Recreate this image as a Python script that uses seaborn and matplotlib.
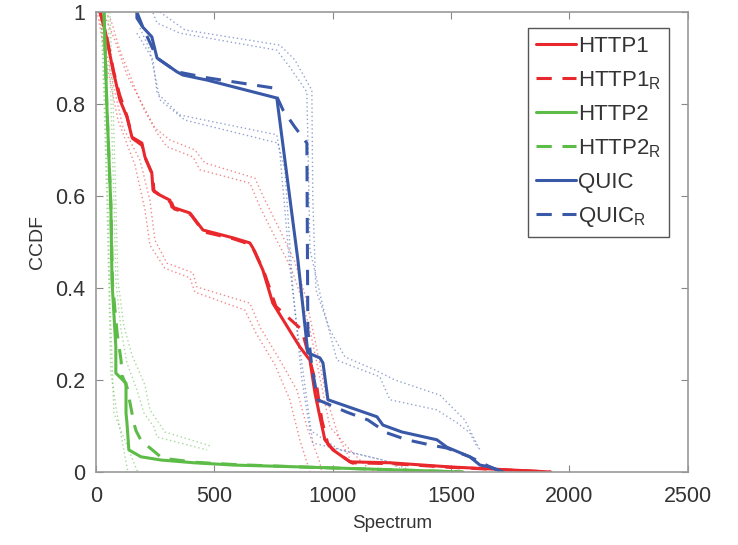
import matplotlib
matplotlib.use("Agg")
import numpy as np
import pandas as pd
import matplotlib.pyplot as plt
import seaborn as sns

# ---- values (spectrum, ccdf) ----
http1_x = [17, 38, 72, 101, 131, 152, 194, 207, 236, 241, 270, 312, 321, 397, 452, 579, 650, 663,
           705, 747, 861, 904, 925, 946, 967, 1001, 1073, 1242, 1495, 1921]
http1_y = [1.0, 0.961, 0.874, 0.809, 0.772, 0.728, 0.715, 0.685, 0.65, 0.613, 0.602, 0.591, 0.576,
           0.563, 0.526, 0.509, 0.498, 0.487, 0.439, 0.367, 0.272, 0.243, 0.172, 0.12, 0.07, 0.048,
           0.022, 0.02, 0.011, 0.0]
http1r_x = [17, 40, 75, 100, 130, 155, 195, 210, 240, 245, 275, 320, 330, 400, 455, 580, 650, 670,
            710, 760, 870, 933, 954, 980, 1010, 1080, 1250, 1500, 1920]
http1r_y = [1.0, 0.96, 0.87, 0.82, 0.775, 0.725, 0.71, 0.68, 0.645, 0.61, 0.6, 0.585, 0.572, 0.56,
            0.522, 0.507, 0.495, 0.48, 0.435, 0.36, 0.309, 0.185, 0.113, 0.06, 0.045, 0.02, 0.018,
            0.01, 0.0]
http2_x = [34, 46, 63, 68, 84, 84, 127, 127, 131, 139, 190, 274, 414, 583, 861, 1550]
http2_y = [1.0, 0.798, 0.58, 0.413, 0.272, 0.215, 0.193, 0.128, 0.107, 0.048, 0.033, 0.026, 0.02,
           0.015, 0.011, 0.0]
http2r_x = [34, 46, 63, 70, 90, 106, 110, 131, 160, 169, 194, 224, 280, 420, 590, 860, 1550]
http2r_y = [1.0, 0.8, 0.58, 0.41, 0.3, 0.243, 0.21, 0.185, 0.107, 0.09, 0.065, 0.054, 0.03, 0.021,
            0.016, 0.011, 0.0]
quic_x = [173, 173, 198, 236, 258, 342, 367, 469, 764, 853, 895, 946, 959, 980, 1187, 1212, 1292,
          1440, 1482, 1579, 1622, 1664, 1719]
quic_y = [1.0, 0.987, 0.967, 0.946, 0.9, 0.87, 0.863, 0.852, 0.813, 0.461, 0.259, 0.248, 0.237,
          0.157, 0.12, 0.102, 0.087, 0.07, 0.054, 0.033, 0.015, 0.011, 0.0]
quicr_x = [173, 198, 258, 342, 469, 747, 790, 840, 891, 895, 912, 937, 1060, 1149, 1229, 1313, 1410,
           1482, 1579, 1664, 1719]
quicr_y = [1.0, 0.967, 0.9, 0.87, 0.857, 0.835, 0.787, 0.75, 0.715, 0.309, 0.228, 0.157, 0.13,
           0.113, 0.085, 0.07, 0.059, 0.052, 0.033, 0.011, 0.0]

# confidence bounds (dotted)
http1_hi1_x = [38, 63, 101, 156, 198, 258, 300, 410, 439, 650, 693, 747, 807, 832, 861, 904, 959,
               988, 1073, 1136, 1178]
http1_hi1_y = [1.0, 0.983, 0.917, 0.846, 0.793, 0.737, 0.707, 0.685, 0.657, 0.628, 0.576, 0.52,
               0.461, 0.433, 0.389, 0.309, 0.172, 0.098, 0.048, 0.015, 0.0]
http1_hi2_x = [30, 80, 131, 186, 249, 312, 418, 460, 671, 714, 777, 840, 883, 925, 976, 1030, 1094]
http1_hi2_y = [1.0, 0.939, 0.863, 0.809, 0.748, 0.722, 0.7, 0.672, 0.639, 0.591, 0.526, 0.457,
               0.385, 0.287, 0.157, 0.07, 0.009]
http1_lo1_x = [17, 59, 114, 186, 228, 249, 300, 410, 427, 650, 693, 777, 849, 891, 946, 954]
http1_lo1_y = [0.983, 0.874, 0.75, 0.678, 0.591, 0.504, 0.454, 0.433, 0.402, 0.367, 0.315, 0.243,
               0.178, 0.098, 0.02, 0.0]
http1_lo2_x = [8, 42, 93, 165, 207, 228, 291, 397, 418, 629, 676, 756, 819, 861, 904]
http1_lo2_y = [0.993, 0.896, 0.765, 0.667, 0.57, 0.493, 0.443, 0.422, 0.391, 0.352, 0.302, 0.233,
               0.157, 0.07, 0.0]
http2_hi1_x = [51, 63, 76, 84, 106, 131, 173, 203, 245, 258, 469]
http2_hi1_y = [1.0, 0.809, 0.591, 0.417, 0.309, 0.237, 0.178, 0.128, 0.098, 0.076, 0.048]
http2_hi2_x = [59, 72, 84, 93, 118, 152, 207, 228, 291, 481]
http2_hi2_y = [1.0, 0.809, 0.591, 0.417, 0.317, 0.254, 0.189, 0.135, 0.087, 0.057]
http2_lo1_x = [21, 34, 46, 55, 63, 89, 131, 135]
http2_lo1_y = [1.0, 0.809, 0.591, 0.396, 0.215, 0.128, 0.011, 0.0]
http2_lo2_x = [25, 38, 51, 59, 76, 173, 182]
http2_lo2_y = [1.0, 0.809, 0.591, 0.374, 0.128, 0.004, 0.0]
quic_hi1_x = [241, 258, 355, 764, 819, 891, 895, 904, 959, 1018, 1199, 1242, 1440, 1525, 1579, 1613]
quic_hi1_y = [0.998, 0.976, 0.954, 0.917, 0.88, 0.826, 0.722, 0.483, 0.359, 0.243, 0.207, 0.157,
              0.135, 0.107, 0.085, 0.052]
quic_hi2_x = [270, 376, 777, 840, 912, 916, 929, 988, 1052, 1178, 1263, 1453, 1558, 1600, 1622]
quic_hi2_y = [1.0, 0.961, 0.928, 0.896, 0.83, 0.591, 0.396, 0.309, 0.25, 0.222, 0.2, 0.167, 0.113,
              0.07, 0.048]
quic_lo1_x = [173, 241, 258, 355, 764, 777, 819, 849, 891, 916, 988, 1212, 1284]
quic_lo1_y = [0.954, 0.896, 0.824, 0.776, 0.733, 0.693, 0.446, 0.315, 0.157, 0.063, 0.054, 0.026,
              0.009]
quic_lo2_x = [186, 228, 270, 376, 769, 798, 832, 870, 904, 1030, 1242, 1326]
quic_lo2_y = [0.965, 0.917, 0.809, 0.765, 0.715, 0.657, 0.396, 0.2, 0.091, 0.048, 0.022, 0.004]

red, green, blue = "#E8282C", "#5DBB47", "#3A58A8"

main = [
    ("HTTP1", http1_x, http1_y, red, "-"),
    ("HTTP1$_\\mathregular{R}$", http1r_x, http1r_y, red, "--"),
    ("HTTP2", http2_x, http2_y, green, "-"),
    ("HTTP2$_\\mathregular{R}$", http2r_x, http2r_y, green, "--"),
    ("QUIC", quic_x, quic_y, blue, "-"),
    ("QUIC$_\\mathregular{R}$", quicr_x, quicr_y, blue, "--"),
]
bounds = [
    (http1_hi1_x, http1_hi1_y, red), (http1_hi2_x, http1_hi2_y, red),
    (http1_lo1_x, http1_lo1_y, red), (http1_lo2_x, http1_lo2_y, red),
    (http2_hi1_x, http2_hi1_y, green), (http2_hi2_x, http2_hi2_y, green),
    (http2_lo1_x, http2_lo1_y, green), (http2_lo2_x, http2_lo2_y, green),
    (quic_hi1_x, quic_hi1_y, blue), (quic_hi2_x, quic_hi2_y, blue),
    (quic_lo1_x, quic_lo1_y, blue), (quic_lo2_x, quic_lo2_y, blue),
]

sns.set_theme(style="ticks")
plt.rcParams["font.family"] = ["Liberation Sans", "DejaVu Sans"]
plt.rcParams["mathtext.fontset"] = "custom"
plt.rcParams["mathtext.rm"] = "Liberation Sans"

fig = plt.figure(figsize=(7.38, 5.45), dpi=100)
ax = fig.add_axes([0.130, 0.134, 0.802, 0.844])

for bx, by, col in bounds:
    sns.lineplot(x=bx, y=by, ax=ax, color=col, lw=1.0, alpha=0.55, sort=False,
                 estimator=None, linestyle=(0, (1, 2)))

for name, mx, my, col, ls in main:
    dashes = (0, (5, 3.5)) if ls == "--" else "-"
    sns.lineplot(x=mx, y=my, ax=ax, color=col, lw=2.2, sort=False, estimator=None,
                 linestyle=dashes, label=name)

ax.set_xlim(0, 2500)
ax.set_ylim(0, 1)
ax.set_xticks([0, 500, 1000, 1500, 2000, 2500])
ax.set_yticks([0, 0.2, 0.4, 0.6, 0.8, 1])
ax.set_yticklabels(["0", "0.2", "0.4", "0.6", "0.8", "1"])
ax.set_xlabel("Spectrum", fontsize=13.5, color="#333333", labelpad=6)
ax.set_ylabel("CCDF", fontsize=14, color="#333333", labelpad=6)
ax.tick_params(axis="x", pad=10)
ax.tick_params(axis="y", pad=8)
ax.tick_params(direction="in", top=True, right=True, length=5, width=0.8,
               labelsize=15.5, colors="#333333", color="#888888")
for s in ax.spines.values():
    s.set_visible(True)
    s.set_color("#999999")
    s.set_linewidth(1.2)

leg = ax.legend(loc="upper right", bbox_to_anchor=(0.968, 0.965), fontsize=16,
                handlelength=1.8, handletextpad=0.1, labelspacing=0.55,
                borderpad=0.35, borderaxespad=0, fancybox=False, framealpha=1,
                edgecolor="#555555")
leg.get_frame().set_linewidth(1.0)
for t in leg.get_texts():
    t.set_color("#333333")

fig.savefig("out.png", dpi=100)
